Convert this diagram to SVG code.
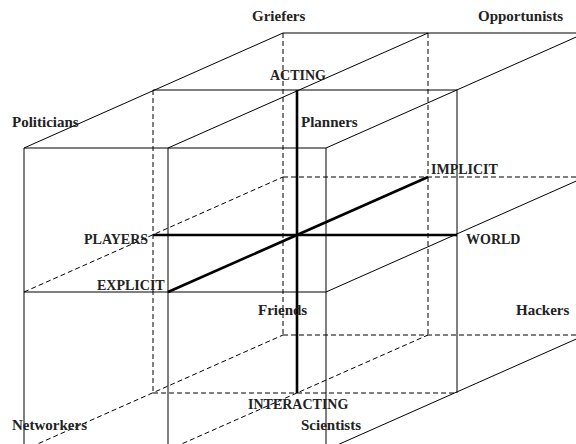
<svg xmlns="http://www.w3.org/2000/svg" width="576" height="444" viewBox="0 0 576 444">
<style>
.t{stroke:#000;stroke-width:1;fill:none}
.d{stroke:#000;stroke-width:1;fill:none;stroke-dasharray:5,3}
.k{stroke:#000;stroke-width:2.6;fill:none}
.r{font-family:"Liberation Serif","Times New Roman",serif;font-weight:bold;font-size:15px;fill:#222}
.a{font-family:"Liberation Serif","Times New Roman",serif;font-weight:bold;font-size:14px;fill:#222}
</style>
<rect width="576" height="444" fill="#fff"/>
<g id="connectors">
<line class="t" x1="283" y1="33" x2="576" y2="33"/>
<line class="t" x1="153" y1="90" x2="457" y2="90"/>
<line class="t" x1="24" y1="148" x2="326" y2="148"/>
<line class="t" x1="24" y1="292" x2="326" y2="292"/>
<line class="t" x1="24" y1="148" x2="24" y2="444"/>
<line class="t" x1="168" y1="148" x2="168" y2="444"/>
<line class="t" x1="326" y1="148" x2="326" y2="444"/>
<line class="t" x1="457" y1="90" x2="457" y2="393"/>
<line class="t" x1="24" y1="148" x2="283" y2="33"/>
<line class="t" x1="168" y1="148" x2="428" y2="33"/>
<line class="t" x1="326" y1="148" x2="600" y2="26.5"/>
<line class="t" x1="326" y1="292" x2="600" y2="170.5"/>
<line class="t" x1="326" y1="450" x2="600" y2="328.5"/>
<line class="d" x1="283" y1="33" x2="283" y2="335"/>
<line class="d" x1="428" y1="33" x2="428" y2="335"/>
<line class="d" x1="153" y1="90" x2="153" y2="393"/>
<line class="d" x1="283" y1="177" x2="576" y2="177"/>
<line class="d" x1="283" y1="335" x2="576" y2="335"/>
<line class="d" x1="153" y1="393" x2="457" y2="393"/>
<line class="d" x1="24" y1="292" x2="283" y2="177"/>
<line class="d" x1="24" y1="450" x2="283" y2="335"/>
<line class="d" x1="168" y1="450" x2="428" y2="335"/>
<line class="k" x1="297" y1="90" x2="297" y2="393"/>
<line class="k" x1="153" y1="235" x2="457" y2="235"/>
<line class="k" x1="168" y1="292" x2="428" y2="177"/>
</g>
<g id="griefers"><text class="r" x="252" y="21">Griefers</text></g>
<g id="opportunists"><text class="r" x="478" y="21">Opportunists</text></g>
<g id="politicians"><text class="r" x="12" y="127">Politicians</text></g>
<g id="planners"><text class="r" x="301" y="127">Planners</text></g>
<g id="friends"><text class="r" x="258" y="315">Friends</text></g>
<g id="hackers"><text class="r" x="516" y="315">Hackers</text></g>
<g id="networkers"><text class="r" x="12" y="430">Networkers</text></g>
<g id="scientists"><text class="r" x="301" y="430">Scientists</text></g>
<g id="acting"><text class="a" x="270" y="80">ACTING</text></g>
<g id="interacting"><text class="a" x="248" y="409">INTERACTING</text></g>
<g id="players"><text class="a" x="84" y="244">PLAYERS</text></g>
<g id="world"><text class="a" x="466" y="244">WORLD</text></g>
<g id="explicit"><text class="a" x="97" y="290">EXPLICIT</text></g>
<g id="implicit"><text class="a" x="431" y="174">IMPLICIT</text></g>
</svg>
